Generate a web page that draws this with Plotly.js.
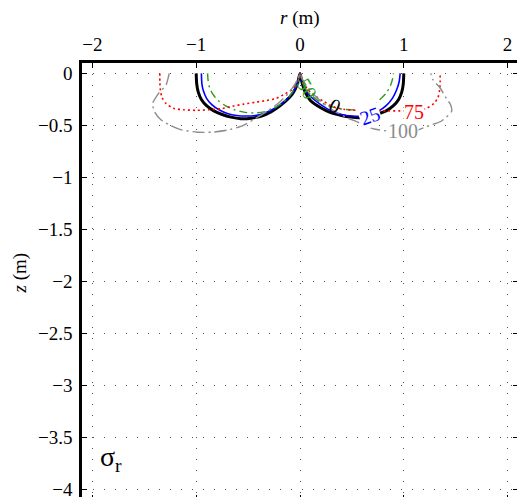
<!DOCTYPE html>
<html>
<head>
<meta charset="utf-8">
<script src="https://cdn.plot.ly/plotly-3.0.1.min.js"></script>
<style>html,body{margin:0;padding:0;overflow:hidden;background:#fff}</style>
</head>
<body>
<div id="chart"></div>
<script>
// Contour levels of sigma_r
const levels = [0, 25, 50, 75, 100];

// level 0 (black)
const r0 = [-1.0,-0.995,-0.98,-0.95,-0.9,-0.83,-0.75,-0.665,-0.57,-0.47,-0.37,-0.28,-0.19,-0.1,-0.05,-0.02,0,
            0.02,0.05,0.1,0.2,0.29,0.4,0.49,0.58,0.66,0.75,0.83,0.9,0.95,0.98,0.995,1.0];
const z0 = [0,-0.1,-0.18,-0.25,-0.31,-0.36,-0.395,-0.42,-0.435,-0.43,-0.41,-0.37,-0.31,-0.23,-0.16,-0.08,0,
            -0.09,-0.18,-0.26,-0.33,-0.375,-0.405,-0.42,-0.425,-0.415,-0.39,-0.36,-0.31,-0.25,-0.18,-0.1,0];

// level 25 (blue)
const r25 = [-0.95,-0.945,-0.93,-0.9,-0.85,-0.78,-0.7,-0.61,-0.52,-0.43,-0.35,-0.27,-0.19,-0.1,-0.05,-0.02,0,
             0.02,0.05,0.1,0.2,0.3,0.4,0.5,0.6,0.68,0.76,0.83,0.89,0.93,0.955,0.965];
const z25 = [0,-0.1,-0.17,-0.24,-0.3,-0.35,-0.385,-0.405,-0.41,-0.405,-0.385,-0.35,-0.3,-0.22,-0.15,-0.07,0,
             -0.07,-0.15,-0.22,-0.3,-0.36,-0.395,-0.41,-0.41,-0.395,-0.36,-0.31,-0.24,-0.16,-0.08,0];

// level 50 (green)
const r50 = [-0.89,-0.885,-0.87,-0.84,-0.79,-0.72,-0.63,-0.53,-0.44,-0.35,-0.26,-0.18,-0.11,-0.06,-0.02,0,
             0.02,0.06,0.12,0.2,0.3,0.42,0.52,0.62,0.7,0.77,0.83,0.87,0.89,0.9];
const z50 = [0,-0.07,-0.14,-0.2,-0.26,-0.31,-0.35,-0.375,-0.38,-0.37,-0.34,-0.29,-0.23,-0.16,-0.08,0,
             -0.08,-0.16,-0.22,-0.28,-0.32,-0.345,-0.35,-0.335,-0.3,-0.25,-0.19,-0.12,-0.06,0];

// level 75 (red)
const r75 = [-1.35,-1.35,-1.345,-1.33,-1.29,-1.22,-1.12,-1.0,-0.88,-0.76,-0.65,-0.54,-0.42,-0.32,-0.23,-0.15,-0.07,-0.03,0,
             0.03,0.07,0.15,0.23,0.32,0.42,0.55,0.7,0.85,1.0,1.12,1.22,1.29,1.33,1.345,1.35,1.35];
const z75 = [0,-0.08,-0.16,-0.23,-0.29,-0.335,-0.35,-0.355,-0.35,-0.34,-0.315,-0.295,-0.275,-0.26,-0.24,-0.2,-0.15,-0.08,0,
             -0.08,-0.15,-0.22,-0.27,-0.32,-0.345,-0.355,-0.36,-0.36,-0.36,-0.355,-0.335,-0.29,-0.23,-0.16,-0.08,0];

// level 100 (gray)
const r100 = [-1.26,-1.29,-1.36,-1.42,-1.40,-1.34,-1.25,-1.15,-0.99,-0.85,-0.7,-0.57,-0.44,-0.31,-0.2,-0.12,-0.06,-0.02,0,
              0.02,0.07,0.15,0.24,0.33,0.44,0.56,0.7,0.85,0.99,1.13,1.25,1.36,1.46,1.45,1.41,1.35,1.28,1.26];
const z100 = [0,-0.11,-0.19,-0.29,-0.37,-0.445,-0.5,-0.54,-0.565,-0.565,-0.545,-0.51,-0.44,-0.36,-0.28,-0.2,-0.12,-0.05,0,
              -0.05,-0.13,-0.22,-0.3,-0.36,-0.42,-0.47,-0.53,-0.555,-0.565,-0.545,-0.5,-0.46,-0.365,-0.3,-0.24,-0.14,-0.06,0];

// contour label positions
const labelText = ['0','25','50','75','100'];
const labelR = [0.34, 0.67, 0.07, 1.10, 0.99];
const labelZ = [-0.31, -0.41, -0.15, -0.37, -0.555];
const labelAngle = [25, -20, 60, 0, 0];

const xTicks = [-2,-1,0,1,2];
const yTicks = [0,-0.5,-1,-1.5,-2,-2.5,-3,-3.5,-4];

const serif = 'Liberation Serif';
const colors = ['#000000','#0000ff','#33991a','#ff0000','#8c8c8c'];
const widths = [3, 1.6, 1.4, 1.6, 1.4];
const dashes = ['solid','solid','8px,4px,2px,4px','2px,3px','12px,4px,2px,4px'];
const rs = [r0, r25, r50, r75, r100];
const zs = [z0, z25, z50, z75, z100];

const traces = rs.map((r, i) => ({
  type: 'scatter', mode: 'lines', x: r, y: zs[i],
  line: {color: colors[i], width: widths[i], dash: dashes[i], shape: 'spline', smoothing: 0.6},
  hoverinfo: 'skip', showlegend: false
}));

const bgs = ['rgba(0,0,0,0)', '#ffffff', 'rgba(0,0,0,0)', '#ffffff', '#ffffff'];
const annotations = labelText.map((t, i) => ({
  x: labelR[i], y: labelZ[i], xref: 'x', yref: 'y', text: t, showarrow: false,
  textangle: labelAngle[i], font: {family: serif, size: 20, color: i === 4 ? '#8c8c8c' : colors[i]},
  bgcolor: bgs[i], borderpad: 0
}));
annotations.push({
  x: -1.82, y: -3.7, xref: 'x', yref: 'y', text: 'σ<sub>r</sub>', showarrow: false,
  font: {family: serif, size: 28, color: '#000'}
});
annotations.push({
  x: 0.5, y: 1.103, xref: 'paper', yref: 'paper', text: '<i>r</i> (m)', showarrow: false,
  font: {family: serif, size: 19, color: '#000'}, yanchor: 'middle'
});
annotations.push({
  x: -0.143, y: 0.52, xref: 'paper', yref: 'paper', text: '<i>z</i> (m)', showarrow: false,
  textangle: -90, font: {family: serif, size: 19, color: '#000'}, yanchor: 'middle', xanchor: 'center'
});

const axisCommon = {
  showline: true, linecolor: '#000', linewidth: 2.8, mirror: 'ticks',
  ticks: 'inside', ticklen: 5, tickwidth: 1, tickcolor: '#000',
  showgrid: true, gridcolor: '#555', gridwidth: 1, griddash: '1px,10px',
  zeroline: false, tickfont: {family: serif, size: 19, color: '#000'}
};

const layout = {
  width: 530, height: 510,
  font: {family: serif, size: 19},
  margin: {l: 82, r: 12, t: 63, b: 10},
  paper_bgcolor: '#fff', plot_bgcolor: '#fff',
  xaxis: Object.assign({}, axisCommon, {range: [-2.1, 2.1], side: 'top', tickvals: xTicks, ticklabelstandoff: 2}),
  yaxis: Object.assign({}, axisCommon, {range: [-4.1, 0.1], tickvals: yTicks, ticklabelstandoff: 3}),
  annotations: annotations,
  showlegend: false
};

Plotly.newPlot('chart', traces, layout, {displayModeBar: false, staticPlot: true});
</script>
</body>
</html>
